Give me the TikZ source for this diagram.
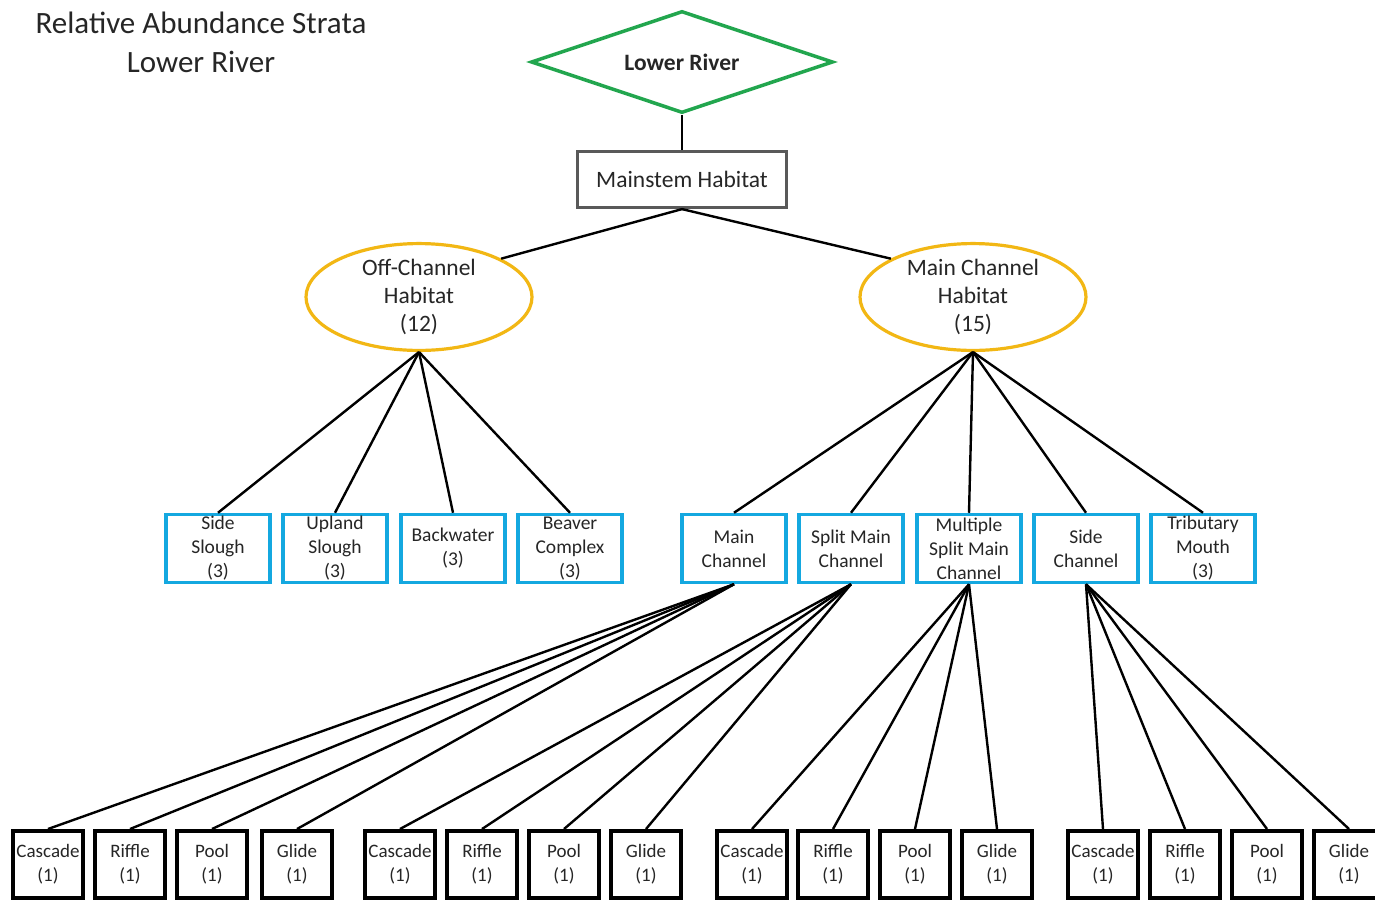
\documentclass[tikz,border=0pt]{standalone}
\usepackage{fontspec}
\setmainfont{Carlito}
\usetikzlibrary{shapes.geometric}
\definecolor{lrgreen}{RGB}{34,166,78}
\definecolor{gold}{RGB}{242,183,20}
\definecolor{skyblue}{RGB}{20,168,224}
\definecolor{boxgray}{RGB}{89,89,89}
\definecolor{txt}{RGB}{38,38,38}
\begin{document}
\begin{tikzpicture}[x=1pt,y=-1pt,
  conn/.style={draw=black,line width=2.4pt},
  habell/.style={ellipse,draw=gold,line width=3.2pt,minimum width=226pt,minimum height=102pt,inner sep=0pt,align=center,text=txt,font=\fontsize{23.5}{28}\selectfont},
  bluebox/.style={rectangle,draw=skyblue,line width=3.5pt,minimum width=104pt,minimum height=68pt,inner sep=0pt,align=center,text=txt,font=\fontsize{19.5}{24}\selectfont},
  unitbox/.style={rectangle,draw=black,line width=4pt,minimum width=70pt,minimum height=67pt,inner sep=0pt,align=center,text=txt,font=\fontsize{19}{24}\selectfont}
]
\useasboundingbox (0,0) rectangle (1375,903);
\clip (0,0) rectangle (1375,903);
\fill[white] (0,0) rectangle (1375,903);

\node[align=center,text=txt,font=\fontsize{31}{39}\selectfont] (title) at (201,42) {Relative Abundance Strata\\Lower River};

\node[diamond,draw=lrgreen,line width=3.5pt,minimum width=302pt,minimum height=102pt,aspect=2.9,inner sep=0pt,font=\fontsize{23.5}{26}\selectfont\bfseries,text=txt] (lr) at (682,62) {Lower River};

\node[rectangle,draw=boxgray,line width=3.2pt,minimum width=209pt,minimum height=56pt,inner sep=0pt,text=txt,font=\fontsize{23.5}{26}\selectfont] (ms) at (682,179.5) {Mainstem Habitat};

\node[habell] (off) at (419,297) {Off-Channel\\Habitat\\(12)};
\node[habell] (mch) at (973,297) {Main Channel\\Habitat\\(15)};

\node[bluebox] (ss) at (218,548.5) {Side\\Slough\\(3)};
\node[bluebox] (us) at (335,548.5) {Upland\\Slough\\(3)};
\node[bluebox] (bw) at (453,548.5) {Backwater\\(3)};
\node[bluebox] (bc) at (570,548.5) {Beaver\\Complex\\(3)};
\node[bluebox] (mc) at (734,548.5) {Main\\Channel};
\node[bluebox] (sm) at (851,548.5) {Split Main\\Channel};
\node[bluebox] (ms2) at (969,548.5) {Multiple\\Split Main\\Channel};
\node[bluebox] (sc) at (1086,548.5) {Side\\Channel};
\node[bluebox] (tm) at (1203,548.5) {Tributary\\Mouth\\(3)};

\foreach \g/\xa/\xb/\xc/\xd in {1/48/130/212/297, 2/400/482/564/646, 3/752/833/915/997, 4/1103/1185/1267/1349}{
  \node[unitbox] (g\g a) at (\xa,864.5) {Cascade\\(1)};
  \node[unitbox] (g\g b) at (\xb,864.5) {Riffle\\(1)};
  \node[unitbox] (g\g c) at (\xc,864.5) {Pool\\(1)};
  \node[unitbox] (g\g d) at (\xd,864.5) {Glide\\(1)};
}

\draw[conn] (lr.south) -- (ms.north);
\draw[conn] (ms.south) -- (off.25);
\draw[conn] (ms.south) -- (mch.155);

\foreach \c in {ss,us,bw,bc}{\draw[conn] (off.south) -- (\c.north);}
\foreach \c in {mc,sm,ms2,sc,tm}{\draw[conn] (mch.south) -- (\c.north);}

\foreach \p/\g in {mc/1,sm/2,ms2/3,sc/4}{
  \foreach \b in {a,b,c,d}{\draw[conn] (\p.south) -- (g\g\b.north);}
}
\end{tikzpicture}
\end{document}
